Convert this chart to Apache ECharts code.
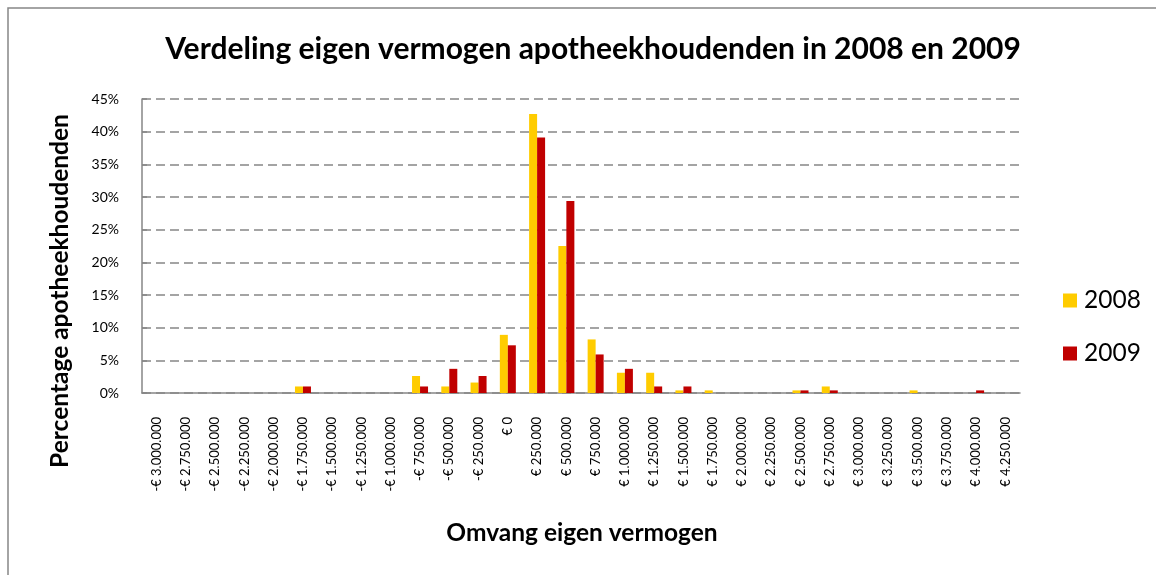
<!DOCTYPE html>
<html>
<head>
<meta charset="utf-8">
<script src="https://cdn.jsdelivr.net/npm/echarts@6/dist/echarts.min.js"></script>
<style>
  html, body { margin: 0; padding: 0; background: #fff; }
  #chart { width: 1156px; height: 575px; }
</style>
</head>
<body>
<div id="chart"></div>
<script>
var categories = [
  '-€ 3.000.000', '-€ 2.750.000', '-€ 2.500.000', '-€ 2.250.000', '-€ 2.000.000',
  '-€ 1.750.000', '-€ 1.500.000', '-€ 1.250.000', '-€ 1.000.000', '-€ 750.000',
  '-€ 500.000', '-€ 250.000', '€ 0', '€ 250.000', '€ 500.000',
  '€ 750.000', '€ 1.000.000', '€ 1.250.000', '€ 1.500.000', '€ 1.750.000',
  '€ 2.000.000', '€ 2.250.000', '€ 2.500.000', '€ 2.750.000', '€ 3.000.000',
  '€ 3.250.000', '€ 3.500.000', '€ 3.750.000', '€ 4.000.000', '€ 4.250.000'
]
// percentages per class
var values2008 = [
  0, 0, 0, 0, 0,
  1.0, 0, 0, 0, 2.6,
  1.0, 1.6, 8.9, 42.7, 22.5,
  8.2, 3.1, 3.1, 0.4, 0.4,
  0, 0, 0.4, 1.0, 0,
  0, 0.4, 0, 0, 0
]
var values2009 = [
  0, 0, 0, 0, 0,
  1.0, 0, 0, 0, 1.0,
  3.7, 2.6, 7.3, 39.1, 29.4,
  5.9, 3.7, 1.0, 1.0, 0,
  0, 0, 0.4, 0.4, 0,
  0, 0, 0, 0.4, 0
]
var yTicks = [0, 5, 10, 15, 20, 25, 30, 35, 40, 45]

var font = 'Lato, "Open Sans", sans-serif'
var chart = echarts.init(document.getElementById('chart'))
var option = {
  backgroundColor: '#fff',
  animation: false,
  textStyle: { fontFamily: font },
  title: {
    text: 'Verdeling eigen vermogen apotheekhoudenden in 2008 en 2009',
    left: 588,
    textAlign: 'center',
    top: 29,
    textStyle: { fontSize: 30, fontWeight: 'bold', color: '#000', fontFamily: font }
  },
  legend: {
    orient: 'vertical',
    left: 1063,
    top: 288,
    padding: 0,
    itemWidth: 14,
    itemHeight: 14,
    itemGap: 28,
    icon: 'rect',
    textStyle: { fontSize: 24.5, color: '#000', fontFamily: font, padding: [0, 0, 0, 2] },
    data: ['2008', '2009']
  },
  grid: { left: 142, right: 136, top: 99, bottom: 182 },
  graphic: [
    {
      type: 'rect',
      silent: true,
      shape: { x: 8, y: 8, width: 1170, height: 600 },
      style: { fill: 'none', stroke: '#868686', lineWidth: 1.5 }
    },
    {
      type: 'text',
      x: 60,
      y: 291,
      rotation: Math.PI / 2,
      style: {
        text: 'Percentage apotheekhoudenden',
        fontSize: 24.5, fontWeight: 'bold', fontFamily: font, fill: '#000',
        align: 'center', verticalAlign: 'middle'
      }
    },
    {
      type: 'text',
      x: 582,
      y: 533,
      style: {
        text: 'Omvang eigen vermogen',
        fontSize: 24.5, fontWeight: 'bold', fontFamily: font, fill: '#000',
        align: 'center', verticalAlign: 'middle'
      }
    }
  ],
  xAxis: {
    type: 'category',
    data: categories,
    axisLine: { lineStyle: { color: '#868686', width: 1.5 } },
    axisTick: { show: false },
    axisLabel: { rotate: 90, fontSize: 13, color: '#000', margin: 24, interval: 0, fontFamily: font }
  },
  yAxis: {
    type: 'value',
    min: yTicks[0],
    max: yTicks[yTicks.length - 1],
    interval: 5,
    axisLine: { show: true, lineStyle: { color: '#868686', width: 1.5 } },
    axisTick: { show: true, inside: true, length: 5, lineStyle: { color: '#868686', width: 1.5 } },
    axisLabel: { formatter: '{value}%', fontSize: 14, color: '#000', margin: 23, fontFamily: font },
    splitLine: { lineStyle: { color: '#868686', type: [9, 5], width: 1.5 } }
  },
  series: [
    {
      name: '2008',
      type: 'bar',
      data: values2008,
      barWidth: 8,
      barGap: '0%',
      itemStyle: { color: '#FFCC00' }
    },
    {
      name: '2009',
      type: 'bar',
      data: values2009,
      barWidth: 8,
      barGap: '0%',
      itemStyle: { color: '#C00000' }
    }
  ]
}
chart.setOption(option)
</script>
</body>
</html>
